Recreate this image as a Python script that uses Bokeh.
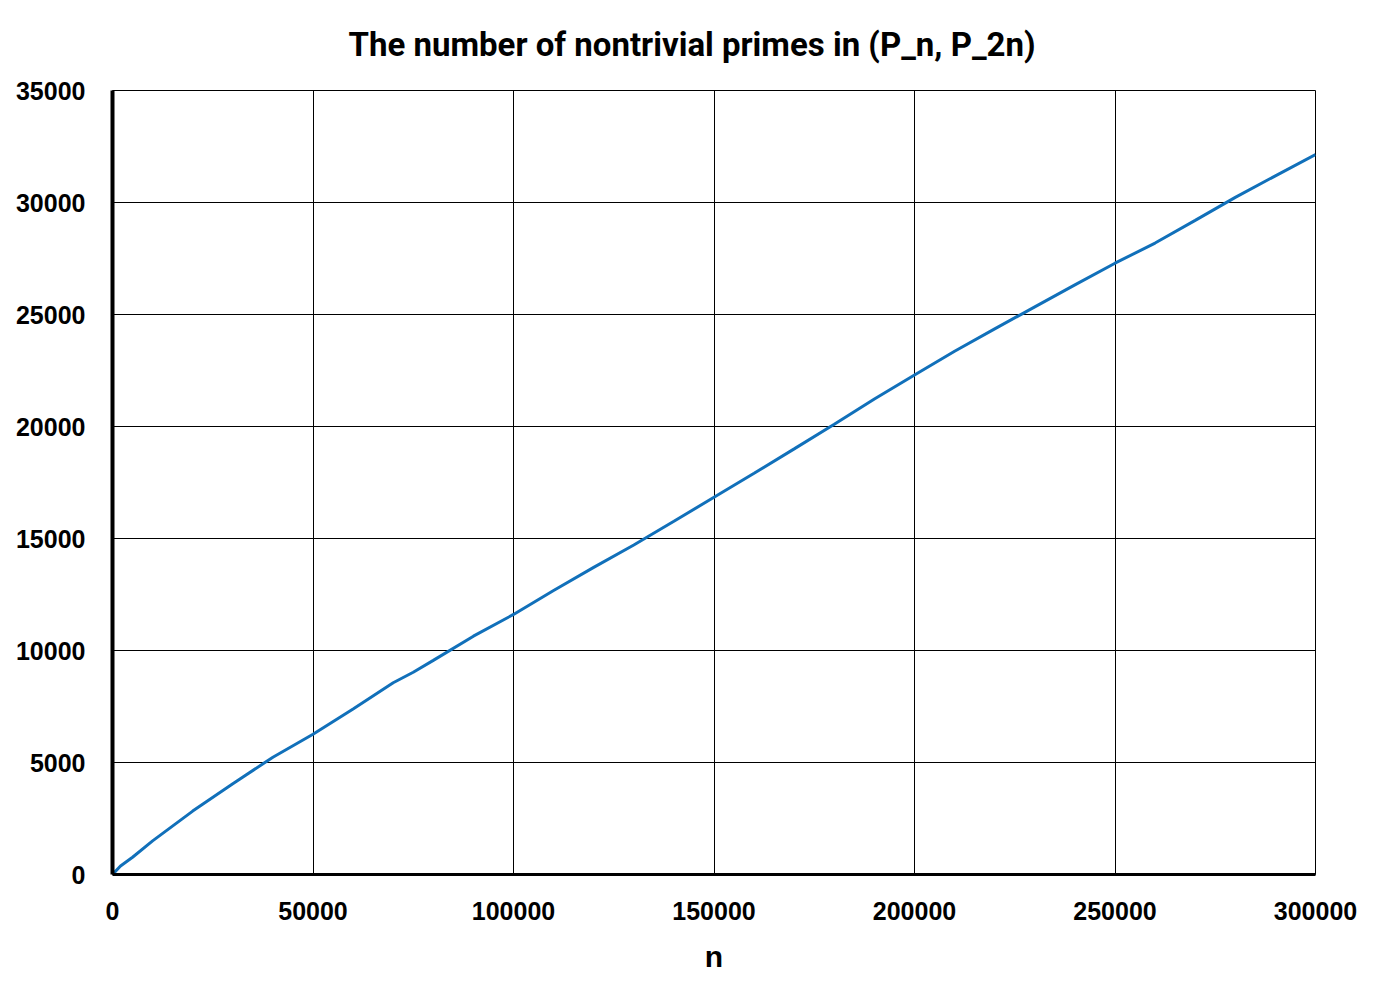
from bokeh.plotting import figure
from bokeh.models import Range1d, FixedTicker, BasicTickFormatter
from bokeh.embed import file_html
from bokeh.resources import INLINE

n_values = [0, 2000, 5000, 10000, 20000, 30000, 40000, 50000, 60000, 70000, 75000,
            80000, 90000, 100000, 110000, 120000, 130000, 140000, 150000, 160000,
            170000, 180000, 190000, 200000, 210000, 220000, 230000, 240000, 250000,
            260000, 270000, 280000, 290000, 300000]
prime_counts = [0, 380, 770, 1500, 2830, 4055, 5235, 6260, 7390, 8560, 9030,
                9560, 10640, 11610, 12680, 13710, 14710, 15770, 16840, 17910,
                19000, 20100, 21230, 22300, 23360, 24360, 25340, 26320, 27290,
                28190, 29200, 30230, 31190, 32140]
x_ticks = [0, 50000, 100000, 150000, 200000, 250000, 300000]
y_ticks = [0, 5000, 10000, 15000, 20000, 25000, 30000, 35000]
title_text = "The number of nontrivial primes in (P_n, P_2n)"

TITLE_FONT = "Liberation Sans Narrow, Roboto, sans-serif"
FONT = "Liberation Sans, Arial, sans-serif"

p = figure(width=1366, height=996, output_backend="svg", toolbar_location=None,
           x_range=Range1d(0, 300000), y_range=Range1d(0, 35000),
           title=title_text,
           x_axis_label="n", min_border_left=112, min_border_right=51,
           min_border_top=90, min_border_bottom=122)
p.frame_width = 1203
p.frame_height = 784

p.title.align = "left"
p.title.vertical_align = "top"
p.title.text_font = TITLE_FONT
p.title.text_font_size = "33px"
p.title.text_font_style = "bold"
p.title.text_color = "black"
p.title.offset = 236
p.title.standoff = 49

p.line(n_values, prime_counts, line_color="#1170BA", line_width=3)

p.outline_line_color = "black"
p.outline_line_width = 1
p.outline_line_alpha = 1

for g in (p.xgrid, p.ygrid):
    g.grid_line_color = "black"
    g.grid_line_width = 1
    g.grid_line_alpha = 1

p.xaxis.ticker = FixedTicker(ticks=x_ticks)
p.yaxis.ticker = FixedTicker(ticks=y_ticks)
p.xgrid.ticker = FixedTicker(ticks=x_ticks)
p.ygrid.ticker = FixedTicker(ticks=y_ticks)

for ax in (p.xaxis[0], p.yaxis[0]):
    ax.formatter = BasicTickFormatter(use_scientific=False)
    ax.axis_line_color = "black"
    ax.major_tick_line_color = None
    ax.minor_tick_line_color = None
    ax.major_tick_out = 0
    ax.major_tick_in = 0
    ax.major_label_text_font = FONT
    ax.major_label_text_font_size = "25px"
    ax.major_label_text_font_style = "bold"
    ax.major_label_text_color = "black"

p.yaxis.axis_line_width = 4
p.xaxis.axis_line_width = 3
p.yaxis.major_label_standoff = 27
p.xaxis.major_label_standoff = 27

p.xaxis.axis_label_text_font = FONT
p.xaxis.axis_label_text_font_size = "30px"
p.xaxis.axis_label_text_font_style = "bold"
p.xaxis.axis_label_text_color = "black"
p.xaxis.axis_label_standoff = 17

open("out.html", "w").write(file_html(p, INLINE))
